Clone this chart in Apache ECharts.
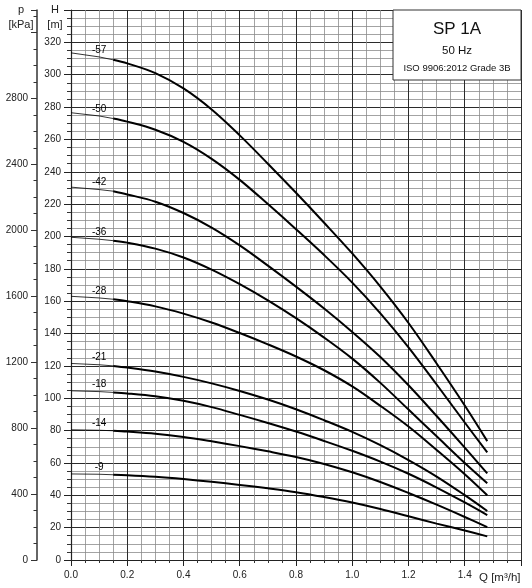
<!DOCTYPE html>
<html>
<head>
<meta charset="utf-8">
<script src="https://cdn.jsdelivr.net/npm/echarts@6/dist/echarts.min.js"></script>
<style>
  html, body { margin: 0; padding: 0; background: #fff; }
  #main { width: 532px; height: 588px; }
</style>
</head>
<body>
<div id="main"></div>
<script>
// flow rate points (m3/h) where the curves were read
const flow = [0, 0.1, 0.15, 0.2, 0.3, 0.4, 0.5, 0.6, 0.7, 0.8, 0.9, 1.0, 1.1, 1.2, 1.3, 1.4, 1.48];

// head (m) for each stage count
const stages = ['-57', '-50', '-42', '-36', '-28', '-21', '-18', '-14', '-9'];
const head57 = [313.5, 311, 309.2, 307, 301, 291.5, 278.5, 262.5, 245, 227, 208.5, 189.5, 169, 146.5, 121.5, 95.5, 73.5];
const head50 = [276.5, 274.5, 272.9, 271, 266, 258.5, 248, 235, 220, 204.5, 188.5, 171.5, 152.5, 131.5, 108.5, 85, 66.5];
const head42 = [230.5, 229, 228, 226, 221.5, 214.5, 205.5, 194.5, 182, 169, 155.5, 141, 125.5, 108, 89, 69.5, 53.5];
const head36 = [199.5, 198.3, 197.4, 196.2, 192.5, 187, 179.5, 170.5, 160.5, 149.5, 137.5, 124.5, 109.5, 93, 76.5, 60, 47.5];
const head28 = [163, 162, 161.2, 160, 156.8, 152.3, 146.8, 140.3, 133.3, 125.8, 117.3, 107.3, 95.3, 82.5, 68, 53, 40];
const head21 = [121.5, 120.7, 120, 119, 116.5, 113.2, 109.2, 104.5, 99.2, 93.2, 86.4, 79.2, 71, 61.8, 51.6, 40.1, 30.3];
const head18 = [104.6, 104.1, 103.6, 103, 101.2, 98.4, 94.5, 89.7, 84.7, 79.4, 73.6, 67.5, 60.8, 53.3, 44.8, 35.6, 27.8];
const head14 = [80.5, 80.2, 79.9, 79.4, 78.1, 76.1, 73.4, 70.4, 67.2, 63.7, 59.4, 54.2, 48.2, 41.4, 34.2, 26.6, 20.3];
const head9 = [53.2, 53, 52.7, 52.4, 51.4, 50, 48.3, 46.4, 44.3, 41.9, 38.9, 35.5, 31.5, 27, 22.5, 18.2, 14.6];
const heads = [head57, head50, head42, head36, head28, head21, head18, head14, head9];

const hMax = 340;
const kPaPerM = 9.81;

let myEchart = echarts.init(document.getElementById('main'));

let series = [];
heads.forEach((h, i) => {
    // thin start of the curve, label sits on the 0.1 point
    series.push({
        type: 'line',
        yAxisIndex: 0,
        symbol: 'circle',
        symbolSize: 0.1,
        itemStyle: { color: 'rgba(0,0,0,0)' },
        lineStyle: { color: '#000', width: 0.8 },
        data: [0, 1, 2].map(k => {
            let item = { value: [flow[k], h[k]] };
            if (k === 1) {
                item.label = {
                    show: true, position: 'top', distance: 2,
                    formatter: stages[i], color: '#000',
                    fontSize: 10, fontFamily: 'Liberation Sans'
                };
            }
            return item;
        })
    });
    // thick working part
    series.push({
        type: 'line',
        yAxisIndex: 0,
        symbol: 'none',
        smooth: 0.35,
        lineStyle: { color: '#000', width: 2 },
        data: flow.slice(2).map((q, k) => [q, h[k + 2]])
    });
});

const labelFont = { fontSize: 10, fontFamily: 'Liberation Sans', color: '#222' };

let option = {
    animation: false,
    grid: { left: 71, right: 11, top: 10, bottom: 28 },
    xAxis: {
        type: 'value', min: 0, max: 1.6, interval: 0.2,
        axisLine: { lineStyle: { color: '#222', width: 1.2 } },
        axisTick: { length: 6, lineStyle: { color: '#222' } },
        minorTick: { show: true, splitNumber: 4, length: 3, lineStyle: { color: '#333' } },
        splitLine: { show: true, lineStyle: { color: '#2b2b2b', width: 1 } },
        minorSplitLine: { show: true, lineStyle: { color: '#8c8c8c', width: 0.8 } },
        axisLabel: Object.assign({
            margin: 10,
            formatter: v => (v > 1.5 ? '' : v.toFixed(1))
        }, labelFont)
    },
    yAxis: [{
        type: 'value', position: 'left', min: 0, max: hMax, interval: 20,
        axisLine: { show: true, lineStyle: { color: '#222', width: 1.2 } },
        axisTick: { show: true, length: 7, lineStyle: { color: '#222' } },
        minorTick: { show: true, splitNumber: 4, length: 4, lineStyle: { color: '#333' } },
        splitLine: { show: true, lineStyle: { color: '#2b2b2b', width: 1 } },
        minorSplitLine: { show: true, lineStyle: { color: '#8c8c8c', width: 0.8 } },
        axisLabel: Object.assign({
            margin: 10,
            formatter: v => (v >= hMax ? '' : v)
        }, labelFont)
    }, {
        type: 'value', position: 'left', offset: 34,
        min: 0, max: hMax * kPaPerM, interval: 400,
        axisLine: { show: true, lineStyle: { color: '#333', width: 1.5 } },
        axisTick: { show: true, length: 6, lineStyle: { color: '#333' } },
        minorTick: { show: true, splitNumber: 4, length: 3.5, lineStyle: { color: '#333' } },
        splitLine: { show: false },
        axisLabel: Object.assign({
            margin: 9,
            formatter: v => (v > 3000 ? '' : v)
        }, labelFont)
    }],
    graphic: [
        { type: 'text', left: 479, top: 572, style: { text: 'Q [m³/h]', fontSize: 11.5, fontFamily: 'Liberation Sans', fill: '#222' } },
        { type: 'text', x: 21, y: 2, style: { text: 'p\n[kPa]', fontSize: 11, lineHeight: 15, align: 'center', fontFamily: 'Liberation Sans', fill: '#222' } },
        { type: 'text', x: 55, y: 2, style: { text: 'H\n[m]', fontSize: 11, lineHeight: 15, align: 'center', fontFamily: 'Liberation Sans', fill: '#222' } },
        { type: 'rect', z: 100, shape: { x: 393, y: 10, width: 128, height: 70 }, style: { fill: '#fff', stroke: '#333', lineWidth: 1 } },
        { type: 'text', z: 101, x: 457, y: 29, style: { text: 'SP 1A', fontSize: 17, align: 'center', verticalAlign: 'middle', fontFamily: 'Liberation Sans', fill: '#111' } },
        { type: 'text', z: 101, x: 457, y: 51, style: { text: '50 Hz', fontSize: 11.5, align: 'center', verticalAlign: 'middle', fontFamily: 'Liberation Sans', fill: '#111' } },
        { type: 'text', z: 101, x: 457, y: 68, style: { text: 'ISO 9906:2012 Grade 3B', fontSize: 9.5, align: 'center', verticalAlign: 'middle', fontFamily: 'Liberation Sans', fill: '#111' } }
    ],
    series: series
};
myEchart.setOption(option);
</script>
</body>
</html>
